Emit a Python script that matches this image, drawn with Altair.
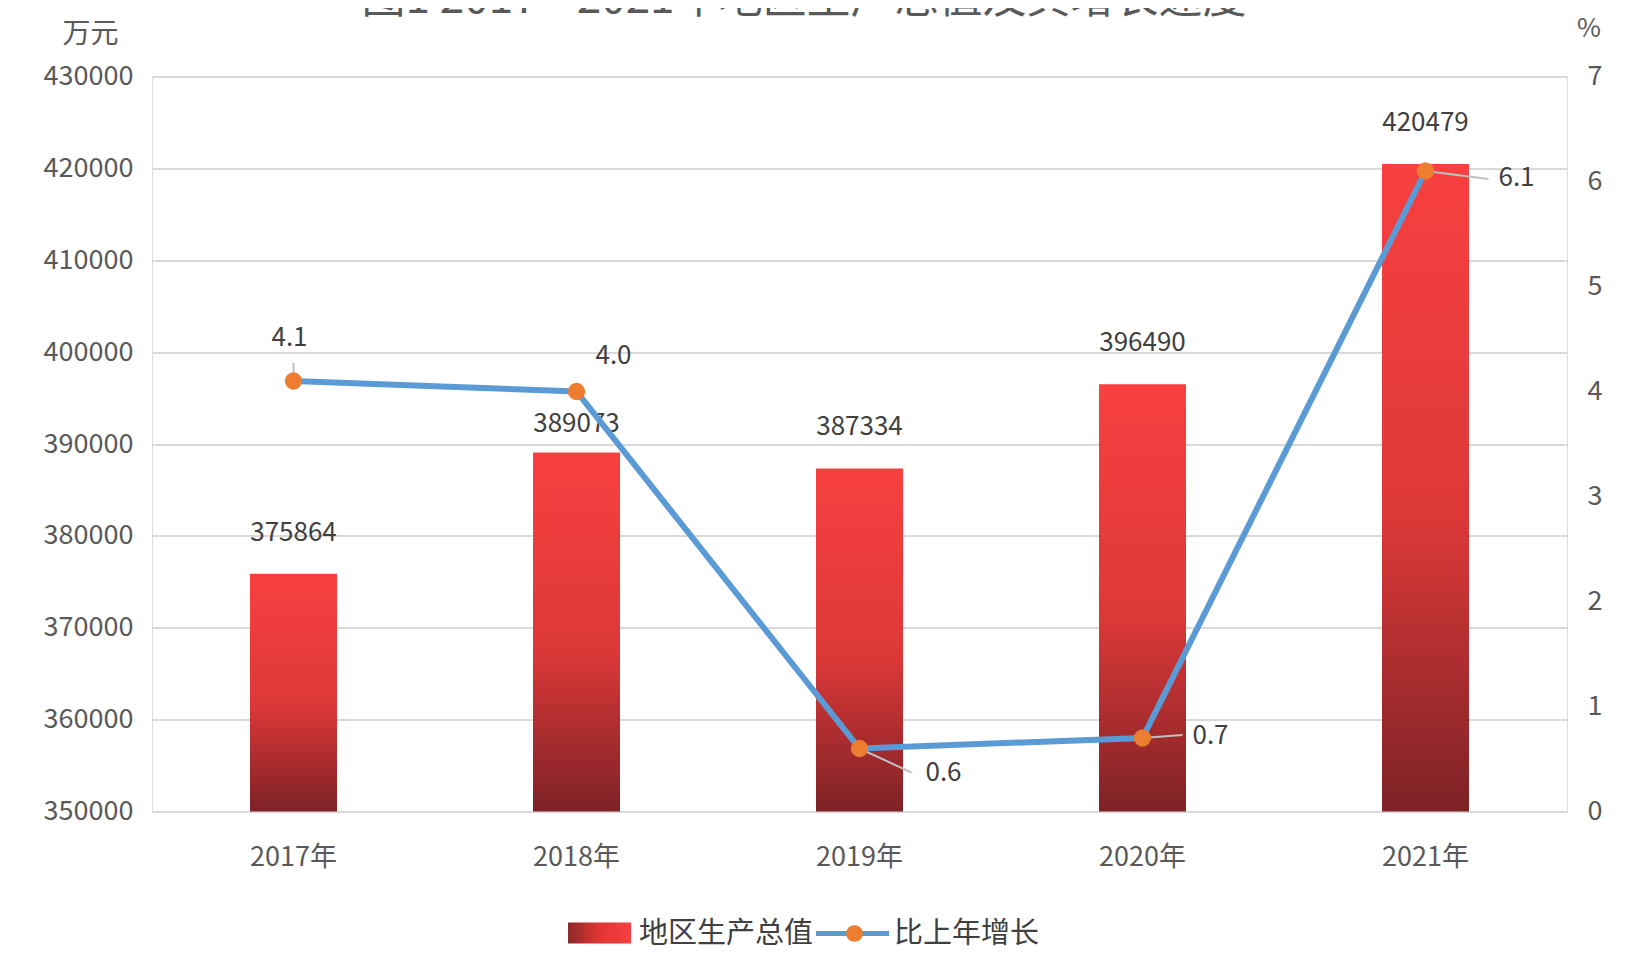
import altair as alt
import pandas as pd

years = ["2017年", "2018年", "2019年", "2020年", "2021年"]
gdp = [375864, 389073, 387334, 396490, 420479]
growth = [4.1, 4.0, 0.6, 0.7, 6.1]
growth_text = ["4.1", "4.0", "0.6", "0.7", "6.1"]
series_names = ["地区生产总值", "比上年增长"]
title_text = "图1 2017—2021年地区生产总值及其增长速度"
left_unit = "万元"
right_unit = "%"
gdp_ticks = [350000, 360000, 370000, 380000, 390000, 400000, 410000, 420000, 430000]
growth_ticks = [0, 1, 2, 3, 4, 5, 6, 7]

FONT = "Noto Sans CJK SC"
LABEL = "#595959"
TEXT = "#404040"
W, H = 1415, 735

df = pd.DataFrame({"year": years, "gdp": gdp, "growth": growth, "glabel": growth_text})
one = pd.DataFrame({"k": [0]})

xenc = alt.X("year:N", sort=years,
             scale=alt.Scale(paddingInner=0.6926, paddingOuter=0.3463),
             axis=alt.Axis(title=None, labelAngle=0, labelFontSize=27, labelFont=FONT,
                           labelColor=LABEL, labelPadding=33, domain=False, ticks=False))

yg = alt.Y("gdp:Q",
           scale=alt.Scale(domain=[350000, 430000], nice=False, zero=False),
           axis=alt.Axis(title=left_unit, titleAngle=0, titleFont=FONT, titleFontSize=28,
                         titleFontWeight="normal", titleColor=LABEL, titleAlign="center",
                         titleBaseline="middle", titleX=-62, titleY=-42.5,
                         values=gdp_ticks, format="d", labelFontSize=27, labelFont=FONT,
                         labelColor=LABEL, labelPadding=19, domain=False, ticks=False,
                         grid=True, gridColor="#D9D9D9", gridWidth=2))

bar_grad = alt.Gradient(gradient="linear",
                        stops=[alt.GradientStop(color="#F84040", offset=0),
                               alt.GradientStop(color="#DC3838", offset=0.55),
                               alt.GradientStop(color="#7D2226", offset=1)],
                        x1=0, x2=0, y1=0, y2=1)

bars = alt.Chart(df).mark_bar(color=bar_grad).encode(x=xenc, y=yg, y2=alt.datum(350000))
bar_labels = alt.Chart(df).transform_filter(alt.datum.year != "2018年").mark_text(
    dy=-41, fontSize=26, font=FONT, color=TEXT, baseline="middle").encode(
    x=xenc, y=yg, text=alt.Text("gdp:Q", format="d"))
bar_label18 = alt.Chart(df).transform_filter(alt.datum.year == "2018年").mark_text(
    dy=-29, fontSize=26, font=FONT, color=TEXT, baseline="middle").encode(
    x=xenc, y=yg, text=alt.Text("gdp:Q", format="d"))
gdp_layer = alt.layer(bars, bar_labels, bar_label18)

yr = alt.Y("growth:Q", scale=alt.Scale(domain=[0, 7], nice=False),
           axis=alt.Axis(orient="right", title=right_unit, titleAngle=0, titleFont=FONT,
                         titleFontSize=26, titleFontWeight="normal", titleColor=LABEL,
                         titleAlign="center", titleBaseline="middle", titleX=21.5, titleY=-48.5,
                         values=growth_ticks, format="d", labelFontSize=27, labelFont=FONT,
                         labelColor=LABEL, labelPadding=20, domain=False, ticks=False, grid=False))

line = alt.Chart(df).mark_line(color="#5B9BD5", strokeWidth=6).encode(x=xenc, y=yr)

# label offsets (text dx, dy, leader end dx, dy)
offs = {
    "2017年": (-4, -43, 0, -18),
    "2018年": (37, -36, None, None),
    "2019年": (84, 24, 52, 24),
    "2020年": (68, -2, 40, -3),
    "2021年": (91, 7, 63, 8),
}
glayers = [line]
for yname, (tdx, tdy, ldx, ldy) in offs.items():
    if ldx is not None:
        glayers.append(alt.Chart(df).transform_filter(alt.datum.year == yname).mark_rule(
            color="#BFBFBF", strokeWidth=2, x2Offset=ldx, y2Offset=ldy).encode(
            x=xenc, x2="year:N", y=yr, y2="growth:Q"))
points = alt.Chart(df).mark_circle(color="#ED7D31", size=300, opacity=1).encode(x=xenc, y=yr)
glayers.append(points)
for yname, (tdx, tdy, ldx, ldy) in offs.items():
    glayers.append(alt.Chart(df).transform_filter(alt.datum.year == yname).mark_text(
        dx=tdx, dy=tdy, fontSize=26, font=FONT, color=TEXT, baseline="middle").encode(
        x=xenc, y=yr, text="glabel:N"))
growth_layer = alt.layer(*glayers)

# title (partly cut at top, as in the original)
title = alt.Chart(one).mark_text(fontSize=44, font=FONT, color=LABEL, baseline="bottom",
                                 align="center").encode(
    x=alt.value(652), y=alt.value(-55), text=alt.value(title_text))

# legend
leg_grad = alt.Gradient(gradient="linear",
                        stops=[alt.GradientStop(color="#8B2A2A", offset=0),
                               alt.GradientStop(color="#E23434", offset=0.5),
                               alt.GradientStop(color="#F54040", offset=1)],
                        x1=0, x2=1, y1=0, y2=0)
leg_rect = alt.Chart(one).mark_rect(color=leg_grad).encode(
    x=alt.value(416), x2=alt.value(479), y=alt.value(846), y2=alt.value(867))
leg_t1 = alt.Chart(one).mark_text(fontSize=29, font=FONT, color=TEXT, align="left",
                                  baseline="middle").encode(
    x=alt.value(487), y=alt.value(857), text=alt.value(series_names[0]))
leg_line = alt.Chart(one).mark_rule(color="#5B9BD5", strokeWidth=5).encode(
    x=alt.value(664), x2=alt.value(737), y=alt.value(857))
leg_dot = alt.Chart(one).mark_circle(color="#ED7D31", size=280, opacity=1).encode(
    x=alt.value(702.5), y=alt.value(857))
leg_t2 = alt.Chart(one).mark_text(fontSize=29, font=FONT, color=TEXT, align="left",
                                  baseline="middle").encode(
    x=alt.value(742), y=alt.value(857), text=alt.value(series_names[1]))

chart = alt.layer(
    alt.layer(gdp_layer, growth_layer).resolve_scale(y="independent"),
    title, leg_rect, leg_t1, leg_line, leg_dot, leg_t2
).properties(
    width=W, height=H,
    padding={"left": 144, "top": 68.5, "right": 60, "bottom": 140},
    autosize=alt.AutoSizeParams(type="none"),
).configure_view(stroke=None).configure(background="white")

chart.save("out.html", embed_options={"renderer": "svg", "actions": False})
